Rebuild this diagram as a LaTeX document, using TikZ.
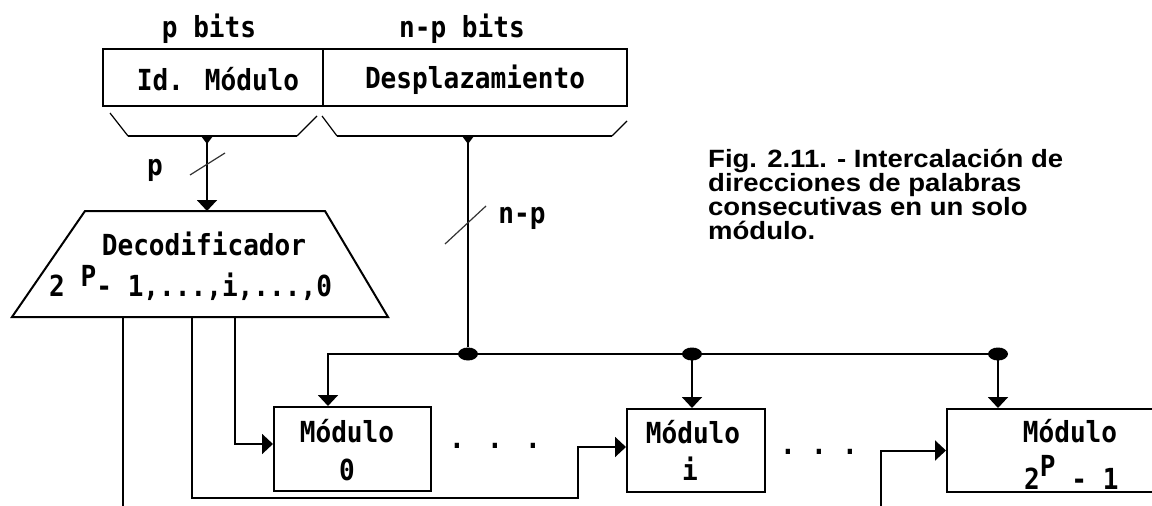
\documentclass[tikz,border=0pt]{standalone}
\usepackage{fontspec}
\usetikzlibrary{arrows.meta,shapes.geometric}
\newfontfamily\dmono{DejaVu Sans Mono}[FakeStretch=0.9]
\newfontfamily\capfont{Liberation Sans}[FakeStretch=1.1]
\begin{document}
\begin{tikzpicture}[x=1pt,y=-1pt,
  wire/.style={line width=2pt},
  arr/.style={-{Triangle[length=11pt,width=20pt]}},
  box/.style={draw,line width=2pt,inner sep=0pt,rectangle},
  lbl/.style={font=\dmono\bfseries\fontsize{29}{32}\selectfont,inner sep=0pt,anchor=base},
  captext/.style={font=\capfont\bfseries\fontsize{25}{25}\selectfont,inner sep=0pt,anchor=base west},
  tick/.style={line width=1.2pt,black!80},
  bracearm/.style={line width=1.2pt},
  junc/.style={ellipse,fill,inner sep=0pt,minimum width=20pt,minimum height=13pt}]

\fill[white] (0,0) rectangle (1152,506);
\useasboundingbox (0,0) rectangle (1152,506);
\clip (0,0) rectangle (1152,506);

% address word: module id + offset
\node[box,minimum width=220pt,minimum height=57pt] (idm) at (213,77.5) {};
\node[box,minimum width=304pt,minimum height=57pt] (des) at (475,77.5) {};
\node[lbl] (idmt) at (218,90) {Id. Módulo};
\node[lbl] (dest) at (475,88) {Desplazamiento};
\node[lbl] (pb) at (209,37) {p bits};
\node[lbl] (npb) at (462,37) {n-p bits};

% braces under the two fields
\coordinate (bl) at (207,136);
\coordinate (br) at (468,136);
\draw[bracearm] (110,113) -- (128,136);
\draw[wire] (128,136) -- (297,136);
\draw[bracearm] (297,136) -- (317,116);
\draw[bracearm] (322,116) -- (337,136);
\draw[wire] (337,136) -- (612,136);
\draw[bracearm] (612,136) -- (627,121);
\fill (bl) ++(-6,0) -- ++(12,0) -- ++(-6,8) -- cycle;
\fill (br) ++(-6,0) -- ++(12,0) -- ++(-6,8) -- cycle;

% decoder
\draw[wire] (85,211) -- (325,211) -- (388,317) -- (12,317) -- cycle;
\node[lbl] (dect) at (204,255) {Decodificador};
\node[lbl,anchor=base west] (decr) at (49,296) {2 \raisebox{10pt}{P}- 1,...,i,...,0};
\coordinate (decin) at (207,211);
\coordinate (o1) at (123,317);
\coordinate (o2) at (192,317);
\coordinate (o3) at (235,317);
\draw[wire,arr] (bl) -- (decin);
\draw[tick] (190,175) -- (225,153);
\node[lbl] (plbl) at (155,175) {p};

% memory modules
\node[box,minimum width=157pt,minimum height=84pt] (M0) at (352.5,449) {};
\node[box,minimum width=138pt,minimum height=83pt] (Mi) at (696,450.5) {};
\node[box,minimum width=240pt,minimum height=83pt] (M2) at (1067,450.5) {};
\node[lbl] (m0a) at (347,442) {Módulo};
\node[lbl] (m0b) at (347,480) {0};
\node[lbl] (mia) at (693,443) {Módulo};
\node[lbl] (mib) at (690,480) {i};
\node[lbl] (m2a) at (1070,442) {Módulo};
\node[lbl,anchor=base west] (m2b) at (1024,489) {2\raisebox{13pt}{P} - 1};
\node[lbl] (dots1) at (495,448) {.\hspace{22.35pt}.\hspace{22.35pt}.};
\node[lbl] (dots2) at (819,454) {.\hspace{15.35pt}.\hspace{15.35pt}.};

% offset bus to every module
\node[junc] (j1) at (468,354) {};
\node[junc] (j2) at (692,354) {};
\node[junc] (j3) at (998,354) {};
\coordinate (c0) at (328,354);
\draw[wire] (br) -- (j1);
\draw[tick] (445,244) -- (486,206);
\node[lbl] (nplbl) at (522,223) {n-p};
\draw[wire] (j1.center) -- (j3.center);
\draw[wire,arr] (j1.center) -- (c0) -- (c0 |- M0.north);
\draw[wire,arr] (j2.center) -- (j2.center |- Mi.north);
\draw[wire,arr] (j3.center) -- (j3.center |- M2.north);

% decoder select lines
\coordinate (o1e) at (123,510);
\draw[wire] (o1) -- (o1e);
\coordinate (t2) at (578,498);
\draw[wire,arr] (o2) |- (t2) |- ([yshift=3.5pt]Mi.west);
\draw[wire,arr] (o3) |- ([yshift=5pt]M0.west);
\coordinate (t4) at (881,510);
\draw[wire,arr] (t4) |- (M2.west);

% caption
\node[captext] (cap1) at (708,167) {Fig. 2.11. - Intercalación de};
\node[captext] (cap2) at (708,191) {direcciones de palabras};
\node[captext] (cap3) at (708,215) {consecutivas en un solo};
\node[captext] (cap4) at (708,239) {módulo.};
\end{tikzpicture}
\end{document}
